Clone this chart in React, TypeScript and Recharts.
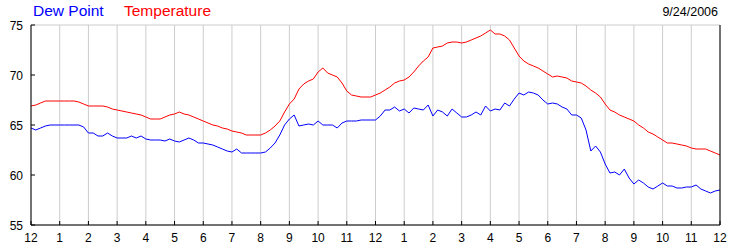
import React from 'react';
import { LineChart, Line, XAxis, YAxis, CartesianGrid } from 'recharts';

// readings every 10 minutes, midnight to midnight
const temperature = [
  66.9, 67.0, 67.2, 67.4, 67.4, 67.4,
  67.4, 67.4, 67.4, 67.4, 67.3, 67.1,
  66.9, 66.9, 66.9, 66.9, 66.8, 66.6,
  66.5, 66.4, 66.3, 66.2, 66.1, 66.0,
  65.8, 65.6, 65.6, 65.6, 65.8, 66.0,
  66.1, 66.3, 66.1, 66.0, 65.8, 65.6,
  65.4, 65.2, 65.0, 64.9, 64.7, 64.6,
  64.4, 64.3, 64.2, 64.0, 64.0, 64.0,
  64.0, 64.2, 64.5, 64.9, 65.4, 66.3,
  67.1, 67.6, 68.6, 69.1, 69.4, 69.6,
  70.3, 70.7, 70.2, 70.0, 69.8, 69.2,
  68.4, 68.0, 67.9, 67.8, 67.8, 67.8,
  68.0, 68.2, 68.5, 68.8, 69.2, 69.4,
  69.5, 69.8, 70.3, 70.9, 71.4, 71.8,
  72.7, 72.8, 72.9, 73.2, 73.3, 73.3,
  73.2, 73.3, 73.5, 73.7, 73.9, 74.2,
  74.5, 74.1, 74.1, 73.9, 73.5, 72.7,
  71.9, 71.4, 71.1, 70.9, 70.7, 70.4,
  70.1, 69.8, 69.9, 69.8, 69.7, 69.4,
  69.3, 69.2, 68.9, 68.5, 68.2, 67.8,
  67.1, 66.5, 66.3, 66.0, 65.8, 65.6,
  65.4, 65.0, 64.7, 64.3, 64.1, 63.8,
  63.5, 63.2, 63.2, 63.1, 63.0, 62.9,
  62.7, 62.6, 62.6, 62.6, 62.4, 62.2,
  62.0,
];

const dewPoint = [
  64.7, 64.5, 64.7, 64.9, 65.0, 65.0,
  65.0, 65.0, 65.0, 65.0, 65.0, 64.8,
  64.2, 64.2, 63.9, 63.9, 64.2, 63.9,
  63.7, 63.7, 63.7, 63.9, 63.7, 63.9,
  63.6, 63.5, 63.5, 63.5, 63.4, 63.6,
  63.4, 63.3, 63.5, 63.7, 63.5, 63.2,
  63.2, 63.1, 63.0, 62.8, 62.6, 62.4,
  62.3, 62.6, 62.2, 62.2, 62.2, 62.2,
  62.2, 62.3, 62.7, 63.2, 64.0, 65.0,
  65.6, 66.0, 64.9, 65.0, 65.1, 65.0,
  65.4, 65.0, 65.0, 65.0, 64.7, 65.2,
  65.4, 65.4, 65.4, 65.5, 65.5, 65.5,
  65.5, 65.9, 66.5, 66.5, 66.8, 66.4,
  66.6, 66.2, 66.7, 66.6, 66.5, 67.0,
  65.9, 66.5, 66.3, 65.9, 66.6, 66.2,
  65.8, 65.8, 66.0, 66.3, 66.0, 66.9,
  66.4, 66.6, 66.5, 67.2, 66.9, 67.6,
  68.2, 68.0, 68.3, 68.2, 68.0, 67.5,
  67.1, 67.2, 67.1, 66.8, 66.6, 66.0,
  66.0, 65.7, 64.5, 62.4, 62.9, 62.3,
  61.1, 60.2, 60.3, 60.0, 60.6, 59.7,
  59.1, 59.5, 59.2, 58.8, 58.6, 58.9,
  59.2, 58.9, 58.9, 58.7, 58.7, 58.8,
  58.8, 59.0, 58.6, 58.4, 58.2, 58.4,
  58.5,
];

const hourLabels = [
  '12', '1', '2', '3', '4', '5', '6', '7', '8', '9', '10', '11',
  '12', '1', '2', '3', '4', '5', '6', '7', '8', '9', '10', '11', '12',
];
const hourTicks = hourLabels.map((_, i) => i * 60);
const tempTicks = [55, 60, 65, 70, 75];

const data = temperature.map((t, i) => ({
  minute: i * 10,
  temp: t,
  dew: dewPoint[i],
}));

const FONT = '"Liberation Sans", Arial, sans-serif';

const BottomTick = (props: any) => {
  const { x, y, payload } = props;
  return (
    <g>
      <line x1={x} y1={y} x2={x} y2={y - 4} stroke="#000" />
      <text x={x} y={y + 17} textAnchor="middle" fontSize={12} fontFamily={FONT} fill="#000">
        {hourLabels[Math.round(payload.value / 60)]}
      </text>
    </g>
  );
};

const TopTick = (props: any) => {
  const { x, y } = props;
  return <line x1={x} y1={y} x2={x} y2={y + 4} stroke="#000" />;
};

const LeftTick = (props: any) => {
  const { x, y, payload } = props;
  return (
    <g>
      <line x1={x} y1={y} x2={x + 4} y2={y} stroke="#000" />
      <text x={x - 8} y={y + 4.5} textAnchor="end" fontSize={12} fontFamily={FONT} fill="#000">
        {payload.value}
      </text>
    </g>
  );
};

const RightTick = (props: any) => {
  const { x, y, payload } = props;
  return (
    <g>
      <line x1={x} y1={y} x2={x - 4} y2={y} stroke="#000" />
      <text x={x + 7} y={y + 4.5} textAnchor="start" fontSize={12} fontFamily={FONT} fill="#000">
        {payload.value}
      </text>
    </g>
  );
};

export default function App() {
  return (
    <div style={{ position: 'absolute', left: 0, top: 0, width: 750, height: 250, background: '#fff', fontFamily: FONT }}>
      <div style={{ position: 'absolute', left: 33, top: 2, fontSize: 15.5, color: '#0000ff', whiteSpace: 'nowrap' }}>Dew Point</div>
      <div style={{ position: 'absolute', left: 124, top: 2, fontSize: 15.5, color: '#ff0000', whiteSpace: 'nowrap' }}>Temperature</div>
      <div style={{ position: 'absolute', right: 32, top: 5, fontSize: 12.5, color: '#000', whiteSpace: 'nowrap' }}>9/24/2006</div>
      <LineChart width={750} height={250} data={data} margin={{ top: 25, right: 0, bottom: 0, left: 0 }}>
        <CartesianGrid stroke="#cccccc" horizontal vertical />
        <XAxis
          dataKey="minute"
          type="number"
          domain={[0, 1440]}
          ticks={hourTicks}
          height={25}
          tickSize={0}
          tickMargin={0}
          tickLine={false}
          axisLine={{ stroke: '#000' }}
          tick={BottomTick}
          interval={0}
        />
        <XAxis
          xAxisId="top"
          dataKey="minute"
          type="number"
          orientation="top"
          domain={[0, 1440]}
          ticks={hourTicks}
          height={0}
          tickSize={0}
          tickMargin={0}
          tickLine={false}
          axisLine={{ stroke: '#000' }}
          tick={TopTick}
          interval={0}
        />
        <YAxis
          yAxisId="left"
          domain={[55, 75]}
          ticks={tempTicks}
          width={31}
          tickSize={0}
          tickMargin={0}
          tickLine={false}
          axisLine={{ stroke: '#000' }}
          tick={LeftTick}
          interval={0}
        />
        <YAxis
          yAxisId="right"
          orientation="right"
          domain={[55, 75]}
          ticks={tempTicks}
          width={30}
          tickSize={0}
          tickMargin={0}
          tickLine={false}
          axisLine={{ stroke: '#000' }}
          tick={RightTick}
          interval={0}
        />
        <Line yAxisId="left" type="linear" dataKey="dew" stroke="#0000ff" strokeWidth={1} dot={false} isAnimationActive={false} />
        <Line yAxisId="left" type="linear" dataKey="temp" stroke="#ff0000" strokeWidth={1} dot={false} isAnimationActive={false} />
      </LineChart>
    </div>
  );
}
